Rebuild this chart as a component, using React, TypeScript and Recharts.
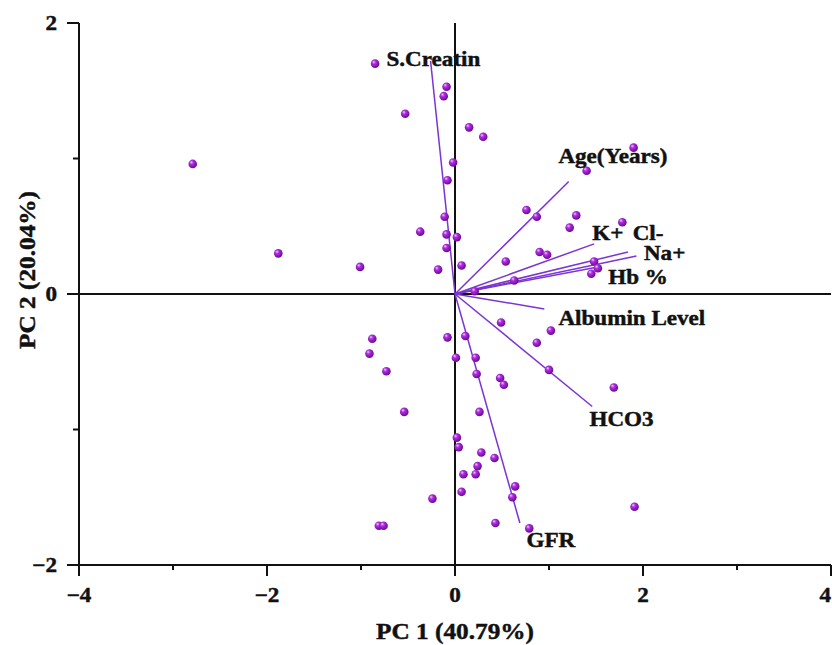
import { ScatterChart, Scatter, XAxis, YAxis, ReferenceLine } from 'recharts';

// PCA scores (PC1, PC2)
const scoreX = [
  -0.85, -0.53, -2.79, -1.88, -1.01, -0.37, -0.09, -0.12, 0.15, 0.3, 1.9, -0.02, 1.4, -0.08,
  0.76, 0.87, 1.29, 1.78, 1.22, -0.11, -0.09, 0.02, -0.09, -0.18, 0.07, 0.54, 0.9, 0.98,
  1.48, 1.52, 1.45, 0.63, 0.21, 0.49, 1.02, -0.08, 0.11, 0.87, 0.01, 0.22, 0.23, 0.48,
  0.52, 1.0, 1.69, 0.26, 0.02, 0.04, 0.28, 0.42, 0.24, 0.22, 0.09, 0.64, 0.07, -0.24,
  0.61, 1.91, 0.43, 0.79, -0.88, -0.91, -0.73, -0.54, -0.81, -0.76,
];
const scoreY = [
  1.7, 1.33, 0.96, 0.3, 0.2, 0.46, 1.53, 1.46, 1.23, 1.16, 1.08, 0.97, 0.91, 0.84,
  0.62, 0.57, 0.58, 0.53, 0.49, 0.57, 0.44, 0.42, 0.34, 0.18, 0.21, 0.24, 0.31, 0.29,
  0.24, 0.19, 0.15, 0.1, 0.02, -0.21, -0.27, -0.32, -0.31, -0.36, -0.47, -0.47, -0.59, -0.62,
  -0.67, -0.56, -0.69, -0.87, -1.06, -1.13, -1.17, -1.21, -1.27, -1.33, -1.33, -1.42, -1.46, -1.51,
  -1.5, -1.57, -1.69, -1.73, -0.33, -0.44, -0.57, -0.87, -1.71, -1.71,
];

// loading vectors and where their names sit
const variables = ['S.Creatin', 'Age(Years)', 'K+', 'Cl-', 'Na+', 'Hb %', 'Albumin Level', 'HCO3', 'GFR'];
const loadingX = [-0.26, 1.21, 1.48, 1.84, 1.93, 1.52, 0.95, 1.46, 0.69];
const loadingY = [1.72, 0.83, 0.37, 0.31, 0.28, 0.2, -0.11, -0.83, -1.69];
const labelX = [-0.73, 1.1, 1.46, 1.89, 2.01, 1.63, 1.1, 1.43, 0.76];
const labelY = [1.68, 0.97, 0.4, 0.4, 0.25, 0.074, -0.229, -0.972, -1.87];

const xTicks = [-4, -3, -2, -1, 0, 1, 2, 3, 4];
const yTicks = [-2, -1, 0, 1, 2];
const rightTicks = [-1, -0.5, 0, 0.5, 1];
const xTitle = 'PC 1 (40.79%)';
const yTitle = 'PC 2 (20.04%)';

const scores = scoreX.map((x, i) => ({ x, y: scoreY[i] }));
const labels = variables.map((name, i) => ({ x: labelX[i], y: labelY[i], name }));

const FONT = '"Liberation Serif", "Times New Roman", serif';
const STRETCH = 1.1;
const VECTOR = '#7b35d2';

function Txt({ x, y, anchor = 'start', size = 21, rotate = 0, children }: any) {
  return (
    <text
      transform={`translate(${x},${y}) rotate(${rotate}) scale(${STRETCH},1)`}
      textAnchor={anchor}
      fontFamily={FONT}
      fontWeight="bold"
      fontSize={size}
      fill="#111"
      stroke="#111"
      strokeWidth={0.45}
    >
      {children}
    </text>
  );
}

const fmt = (v: number) => (v < 0 ? `\u2212${Math.abs(v)}` : `${v}`);

function makeTick(side: string, isMajor: (v: number) => boolean, labelled: boolean) {
  return (props: any) => {
    const { x, y, payload } = props;
    const v = payload.value;
    const major = isMajor(v);
    let line;
    if (side === 'left') line = <line x1={x} y1={y} x2={x - (major ? 12 : 6)} y2={y} />;
    else if (side === 'right') line = <line x1={x} y1={y} x2={x - (major ? 10 : 5)} y2={y} />;
    else if (side === 'top') line = <line x1={x} y1={y} x2={x} y2={y + (major ? 11 : 6)} />;
    else line = <line x1={x} y1={y} x2={x} y2={y + (major ? 11 : 5)} />;
    return (
      <g>
        <g stroke="#111" strokeWidth={2}>{line}</g>
        {labelled && major && side === 'left' && (
          <Txt x={x - 22} y={y + 7} anchor="end">{fmt(v)}</Txt>
        )}
        {labelled && major && side === 'bottom' && (
          // last label sits on the chart's right edge, keep it inside
          <Txt x={v === 4 ? x : x} y={y + 37} anchor={v === 4 ? 'end' : 'middle'}>{fmt(v)}</Txt>
        )}
      </g>
    );
  };
}

const even = (v: number) => v % 2 === 0;
const whole = (v: number) => Number.isInteger(v);
const axisLine = { stroke: '#111', strokeWidth: 2 };

export default function App() {
  return (
    <div style={{ position: 'absolute', left: 0, top: 0, background: '#fff' }}>
      <svg width={0} height={0} style={{ position: 'absolute' }}>
        <defs>
          <radialGradient id="sphere" cx="0.4" cy="0.38" r="0.62" fx="0.34" fy="0.3">
            <stop offset="0%" stopColor="#f4cbff" />
            <stop offset="35%" stopColor="#b02ee0" />
            <stop offset="100%" stopColor="#6a0a94" />
          </radialGradient>
        </defs>
      </svg>
      <ScatterChart width={832} height={645} margin={{ top: 23, right: 1, bottom: 0, left: 0 }}>
        <XAxis
          type="number"
          dataKey="x"
          domain={[-4, 4]}
          ticks={xTicks}
          interval={0}
          allowDataOverflow
          height={80}
          axisLine={axisLine}
          tickLine={false}
          tickSize={0}
          tickMargin={0}
          tick={makeTick('bottom', even, true)}
          label={{
            content: (p: any) => (
              <Txt x={p.viewBox.x + p.viewBox.width / 2} y={p.viewBox.y + 74} anchor="middle" size={23}>
                {xTitle}
              </Txt>
            ),
          }}
        />
        <XAxis
          xAxisId="top"
          orientation="top"
          type="number"
          domain={[-4, 4]}
          ticks={xTicks}
          interval={0}
          allowDataOverflow
          height={0}
          axisLine={axisLine}
          tickLine={false}
          tickSize={0}
          tickMargin={0}
          tick={makeTick('top', even, false)}
        />
        <YAxis
          type="number"
          dataKey="y"
          domain={[-2, 2]}
          ticks={yTicks}
          interval={0}
          allowDataOverflow
          width={79}
          axisLine={axisLine}
          tickLine={false}
          tickSize={0}
          tickMargin={0}
          tick={makeTick('left', even, true)}
          label={{
            content: () => (
              <Txt x={35} y={270} anchor="middle" size={23} rotate={-90}>
                {yTitle}
              </Txt>
            ),
          }}
        />
        <YAxis
          yAxisId="right"
          orientation="right"
          type="number"
          domain={[-1.45, 1.45]}
          ticks={rightTicks}
          interval={0}
          allowDataOverflow
          width={0}
          axisLine={axisLine}
          tickLine={false}
          tickSize={0}
          tickMargin={0}
          tick={makeTick('right', whole, false)}
        />
        <ReferenceLine x={0} stroke="#111" strokeWidth={2} />
        <ReferenceLine y={0} stroke="#111" strokeWidth={2} />
        {variables.map((name, i) => (
          <ReferenceLine
            key={name}
            segment={[
              { x: 0, y: 0 },
              { x: loadingX[i], y: loadingY[i] },
            ]}
            stroke={VECTOR}
            strokeWidth={1.5}
          />
        ))}
        <Scatter
          data={scores}
          isAnimationActive={false}
          shape={(p: any) => <circle cx={p.cx} cy={p.cy} r={4.3} fill="url(#sphere)" />}
        />
        <Scatter
          data={labels}
          isAnimationActive={false}
          shape={(p: any) => (
            <Txt x={p.cx} y={p.cy}>
              {p.payload.name}
            </Txt>
          )}
        />
      </ScatterChart>
    </div>
  );
}
